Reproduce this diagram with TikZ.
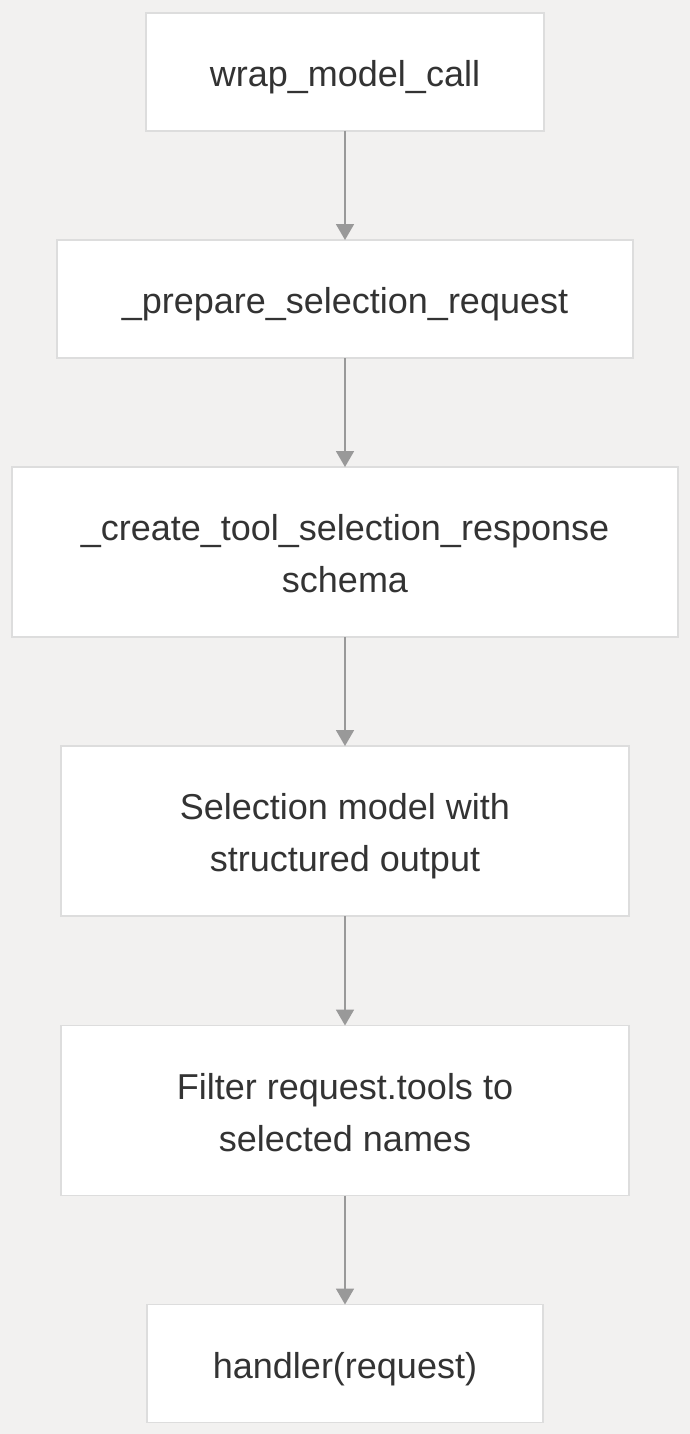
\documentclass[tikz,border=0pt]{standalone}
\usepackage{fontspec}
\setmainfont{Liberation Sans}
\usetikzlibrary{arrows.meta}
\definecolor{bgc}{HTML}{F2F1F0}
\definecolor{boxborder}{HTML}{DDDDDD}
\definecolor{txtc}{HTML}{333333}
\definecolor{arrc}{HTML}{999999}
\newcommand{\lnstrut}{\rule[-11pt]{0pt}{51pt}}
\tikzset{
  stepbox/.style={draw=boxborder, line width=1.6pt, fill=white, inner sep=0pt, outer sep=0pt,
    text=txtc, align=center, font=\fontsize{36}{52}\selectfont},
  flowarrow/.style={draw=arrc, line width=1.8pt, -{Triangle[width=18pt,length=16pt]}}
}
\begin{document}
\begin{tikzpicture}[x=1pt,y=-1pt]
\useasboundingbox[fill=bgc] (0,0) rectangle (690,1434);
\node[stepbox, minimum width=398pt, minimum height=118pt] (a) at (345,72) {\lnstrut wrap\_model\_call};
\node[stepbox, minimum width=576pt, minimum height=118pt] (b) at (345,299) {\lnstrut\_prepare\_selection\_request};
\node[stepbox, minimum width=666pt, minimum height=170pt] (c) at (345,552) {\lnstrut\_create\_tool\_selection\_response\\\lnstrut schema};
\node[stepbox, minimum width=568pt, minimum height=170pt] (d) at (345,831) {\lnstrut Selection model with\\\lnstrut structured output};
\node[stepbox, minimum width=568pt, minimum height=170pt] (e) at (345,1110.5) {\lnstrut Filter request.tools to\\\lnstrut selected names};
\node[stepbox, minimum width=396pt, minimum height=118pt] (f) at (345,1363.5) {\lnstrut handler(request)};
\draw[flowarrow] (a.south) -- (b.north);
\draw[flowarrow] (b.south) -- (c.north);
\draw[flowarrow] (c.south) -- (d.north);
\draw[flowarrow] (d.south) -- (e.north);
\draw[flowarrow] (e.south) -- (f.north);
\end{tikzpicture}
\end{document}
